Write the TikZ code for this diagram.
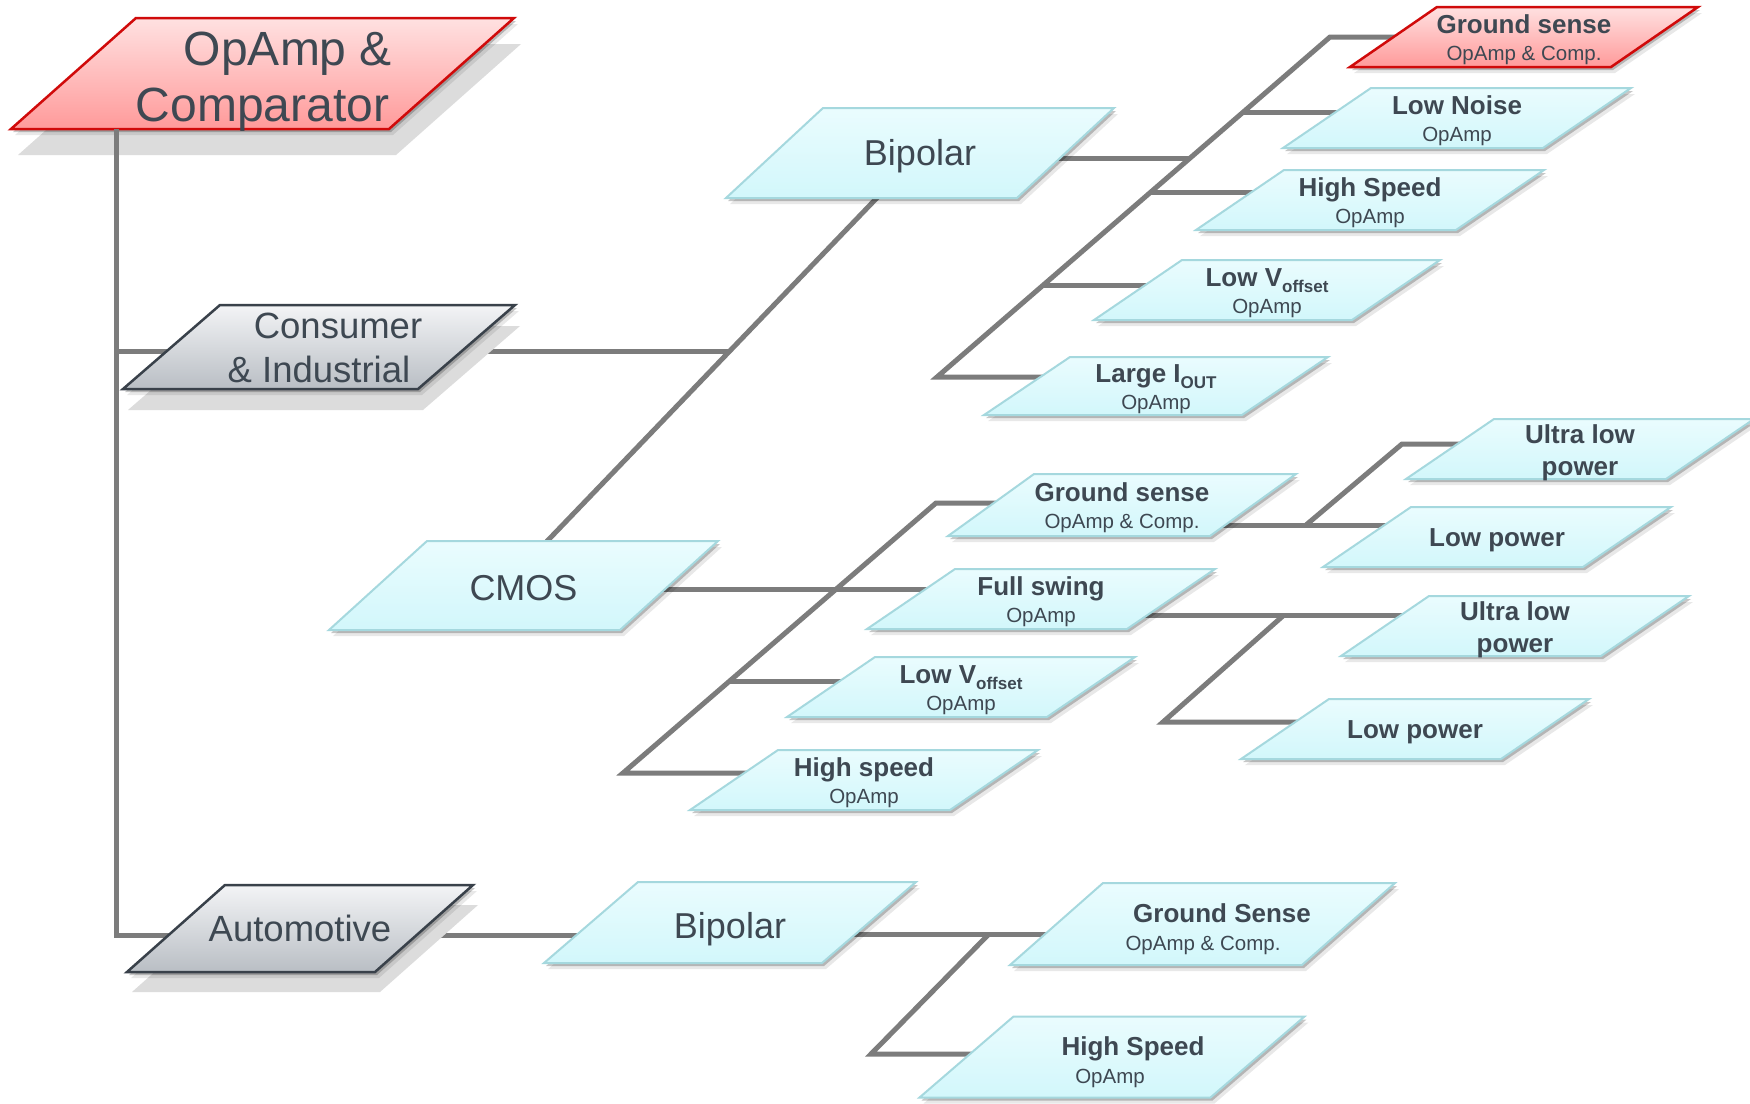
\documentclass[tikz,border=0pt]{standalone}
\usepackage{fontspec}
\setmainfont{Liberation Sans}
\usetikzlibrary{calc}

\definecolor{ink}{HTML}{3E4852}
\definecolor{wire}{HTML}{7C7C7C}
\definecolor{cyTop}{HTML}{EAFCFE}
\definecolor{cyBot}{HTML}{D2F7FB}
\definecolor{cyEdge}{HTML}{A5D8DE}
\definecolor{rdTop}{HTML}{FFE1E1}
\definecolor{rdBot}{HTML}{FF9A9A}
\definecolor{rdEdge}{HTML}{D00A0A}
\definecolor{gyTop}{HTML}{F3F4F6}
\definecolor{gyBot}{HTML}{B9BEC4}
\definecolor{gyEdge}{HTML}{39414A}
\definecolor{flat}{HTML}{DCDCDC}

\pgfdeclarelayer{wires}
\pgfdeclarelayer{plates}
\pgfsetlayers{wires,plates,main}

\tikzset{
  hold/.style={rectangle, draw=none, inner sep=0pt, outer sep=0pt},
  cyanplate/.style={top color=cyTop, bottom color=cyBot, draw=cyEdge, line width=2pt},
  redplate/.style={top color=rdTop, bottom color=rdBot, draw=rdEdge, line width=2.5pt},
  grayplate/.style={top color=gyTop, bottom color=gyBot, draw=gyEdge, line width=2.5pt},
  soft1/.style={fill=black, opacity=0.22},
  soft2/.style={fill=black, opacity=0.09},
  flatshade/.style={fill=flat},
  wireline/.style={draw=wire, line width=5pt},
  lbl/.style={anchor=base, inner sep=0pt, outer sep=0pt, text=ink},
  hd/.style={lbl, font=\bfseries\fontsize{26}{30}\selectfont},
  sb/.style={lbl, font=\fontsize{20.5}{24}\selectfont},
  big/.style={lbl, font=\fontsize{36}{42}\selectfont},
  grp/.style={lbl, font=\fontsize{36.5}{42}\selectfont},
  head/.style={lbl, font=\fontsize{48}{56}\selectfont},
}

% lowered subscript in the heading lines
\newcommand\lowsub[1]{\raisebox{-6pt}{\fontsize{17}{17}\selectfont #1}}

% parallelogram around node #1: side #2, height #3, slant #4, shifted by (#5,#6), style #7
\newcommand\pgshape[7]{%
  \path[#7] ($(#1.center)+({-(#2)/2+(#4)/2+(#5)},{-(#3)/2+(#6)})$)
    -- ++(#2,0) -- ++({-(#4)},#3) -- ++({-(#2)},0) -- cycle;}

% slanted plate: name, x, y, side, height, slant, style
\newcommand\plate[7]{%
  \node[hold, minimum width=#4, minimum height=#5] (#1) at (#2,#3) {};
  \begin{pgfonlayer}{plates}
    \pgshape{#1}{#4}{#5}{#6}{4}{6}{soft2}
    \pgshape{#1}{#4}{#5}{#6}{2}{3}{soft1}
    \pgshape{#1}{#4}{#5}{#6}{0}{0}{#7}
  \end{pgfonlayer}}

% slanted plate with a flat cast shadow offset by (#8,#9)
\newcommand\platefs[9]{%
  \node[hold, minimum width=#4, minimum height=#5] (#1) at (#2,#3) {};
  \begin{pgfonlayer}{plates}
    \pgshape{#1}{#4}{#5}{#6}{#8}{#9}{flatshade}
    \pgshape{#1}{#4}{#5}{#6}{4}{6}{soft2}
    \pgshape{#1}{#4}{#5}{#6}{2}{3}{soft1}
    \pgshape{#1}{#4}{#5}{#6}{0}{0}{#7}
  \end{pgfonlayer}}

% two-line label of a small plate
\newcommand\twoline[3]{%
  \node[hd] (#1-h) at ($(#1.center)+(0,-4)$) {#2};
  \node[sb] (#1-s) at ($(#1.center)+(0,23)$) {#3};}

\begin{document}
\begin{tikzpicture}[x=1pt,y=-1pt]
\useasboundingbox (0,0) rectangle (1750,1103);

% ---- plates ----
\platefs{top}{262.5}{73.5}{378}{111}{125}{redplate}{7}{26}
\platefs{cons}{319}{347}{295}{84}{97}{grayplate}{5}{21}
\platefs{auto}{300}{928.5}{248}{87}{98}{grayplate}{5}{20}
\plate{bipA}{920}{153}{291}{90}{97}{cyanplate}
\plate{cmos}{523.5}{585.5}{291}{89}{98}{cyanplate}
\plate{bipB}{730}{922.5}{278}{81}{94}{cyanplate}
\plate{gsR}{1524}{37}{261}{60}{87}{redplate}
\plate{lowNoise}{1457}{118}{260}{60}{88}{cyanplate}
\plate{hsA}{1370}{200}{260}{60}{88}{cyanplate}
\plate{lowVoffA}{1267}{290}{258}{60}{88}{cyanplate}
\plate{largeIout}{1156}{386}{258}{58}{86}{cyanplate}
\plate{gsC}{1122}{505}{262}{62}{86}{cyanplate}
\plate{fullSwing}{1041}{599}{260}{60}{88}{cyanplate}
\plate{lowVoffC}{961}{687}{260}{60}{88}{cyanplate}
\plate{hsC}{864}{780}{260}{60}{88}{cyanplate}
\plate{ulp1}{1580}{449}{260}{60}{88}{cyanplate}
\plate{lp1}{1497}{537}{260}{60}{88}{cyanplate}
\plate{ulp2}{1515}{626}{260}{60}{88}{cyanplate}
\plate{lp2}{1415}{729}{260}{60}{88}{cyanplate}
\plate{gsB}{1202.5}{924}{292}{82}{93}{cyanplate}
\plate{hsB}{1112}{1057}{291}{81}{94}{cyanplate}

% ---- labels ----
\node[head] (top-a) at ($(top.center)+(25.5,-8.5)$) {OpAmp \&};
\node[head] (top-b) at ($(top.center)+(0,47.5)$) {Comparator};
\node[grp] (cons-a) at ($(cons.center)+(19,-9)$) {Consumer};
\node[grp] (cons-b) at ($(cons.center)+(0,35)$) {\& Industrial};
\node[grp] (auto-a) at ($(auto.center)+(0,12.5)$) {Automotive};
\node[big] (bipA-a) at ($(bipA.center)+(0,12)$) {Bipolar};
\node[big] (cmos-a) at ($(cmos.center)+(0,14.5)$) {CMOS};
\node[big] (bipB-a) at ($(bipB.center)+(0,15.5)$) {Bipolar};

\twoline{gsR}{Ground sense}{OpAmp \& Comp.}
\twoline{lowNoise}{Low Noise}{OpAmp}
\twoline{hsA}{High Speed}{OpAmp}
\twoline{lowVoffA}{Low V\lowsub{offset}}{OpAmp}
\twoline{largeIout}{Large I\lowsub{OUT}}{OpAmp}
\twoline{gsC}{Ground sense}{OpAmp \& Comp.}
\twoline{fullSwing}{Full swing}{OpAmp}
\twoline{lowVoffC}{Low V\lowsub{offset}}{OpAmp}
\twoline{hsC}{High speed}{OpAmp}

\node[hd] (ulp1-a) at ($(ulp1.center)+(0,-6)$) {Ultra low};
\node[hd] (ulp1-b) at ($(ulp1.center)+(0,26)$) {power};
\node[hd] (lp1-a) at ($(lp1.center)+(0,9)$) {Low power};
\node[hd] (ulp2-a) at ($(ulp2.center)+(0,-6)$) {Ultra low};
\node[hd] (ulp2-b) at ($(ulp2.center)+(0,26)$) {power};
\node[hd] (lp2-a) at ($(lp2.center)+(0,9)$) {Low power};

\node[hd] (gsB-h) at ($(gsB.center)+(19.5,-2)$) {Ground Sense};
\node[sb] (gsB-s) at ($(gsB.center)+(0.5,26)$) {OpAmp \& Comp.};
\node[hd] (hsB-h) at ($(hsB.center)+(21,-1.5)$) {High Speed};
\node[sb] (hsB-s) at ($(hsB.center)+(-2,26)$) {OpAmp};

% ---- connectors ----
\coordinate (t1) at (116,351);
\coordinate (t2) at (116,935);
\coordinate (j1) at (729,351);
% the trunk runs over the cast shadow of the top plate
\begin{pgfonlayer}{plates}
  \draw[wireline] (t1 |- top.south) -- ($(t1 |- top.south)+(0,32)$);
\end{pgfonlayer}
\begin{pgfonlayer}{wires}
  \fill[white] (0,0) rectangle (1750,1103);
  % main trunk and first level
  \draw[wireline] (t1 |- top.center) -- (t2) -- (t2 -| auto.center);
  \draw[wireline] (t1) -- (j1);
  \draw[wireline] ($(cmos.center)+(-19,0)$) -- (bipA.center);
  % bipolar (consumer) branch
  \coordinate (aT) at (1330,37);
  \coordinate (a1) at (1243.6,112);
  \coordinate (a3) at (1190.4,158);
  \coordinate (a2) at (1151,192);
  \coordinate (a4) at (1043.4,285);
  \coordinate (aL) at (937,377);
  \draw[wireline] (a3 -| bipA.center) -- (a3);
  \draw[wireline] (aL -| largeIout.center) -- (aL) -- (aT) -- (aT -| gsR.center);
  \draw[wireline] (a1) -- (a1 -| lowNoise.center);
  \draw[wireline] (a2) -- (a2 -| hsA.center);
  \draw[wireline] (a4) -- (a4 -| lowVoffA.center);
  % CMOS branch
  \coordinate (cT) at (936,503);
  \coordinate (c2) at (836.4,589);
  \coordinate (c3) at (729.7,681);
  \coordinate (cL) at (623,773);
  \draw[wireline] (c2 -| cmos.center) -- (c2 -| fullSwing.center);
  \draw[wireline] (cL -| hsC.center) -- (cL) -- (cT) -- (cT -| gsC.center);
  \draw[wireline] (c3) -- (c3 -| lowVoffC.center);
  % ground sense (CMOS) outputs
  \coordinate (g1) at (1306,525);
  \coordinate (g2) at (1402,444);
  \draw[wireline] (g1 -| gsC.center) -- (g1 -| lp1.center);
  \draw[wireline] (g1) -- (g2) -- (g2 -| ulp1.center);
  % full swing outputs
  \coordinate (f1) at (1284,615);
  \coordinate (f2) at (1163,722);
  \draw[wireline] (f1 -| fullSwing.center) -- (f1 -| ulp2.center);
  \draw[wireline] (f1) -- (f2) -- (f2 -| lp2.center);
  % automotive branch
  \coordinate (b1) at (989,934);
  \coordinate (b2) at (871,1054);
  \draw[wireline] (t2 -| auto.center) -- (t2 -| bipB.center);
  \draw[wireline] (b1 -| bipB.center) -- (b1 -| gsB.center);
  \draw[wireline] (b1) -- (b2) -- (b2 -| hsB.center);
\end{pgfonlayer}
\end{tikzpicture}
\end{document}
